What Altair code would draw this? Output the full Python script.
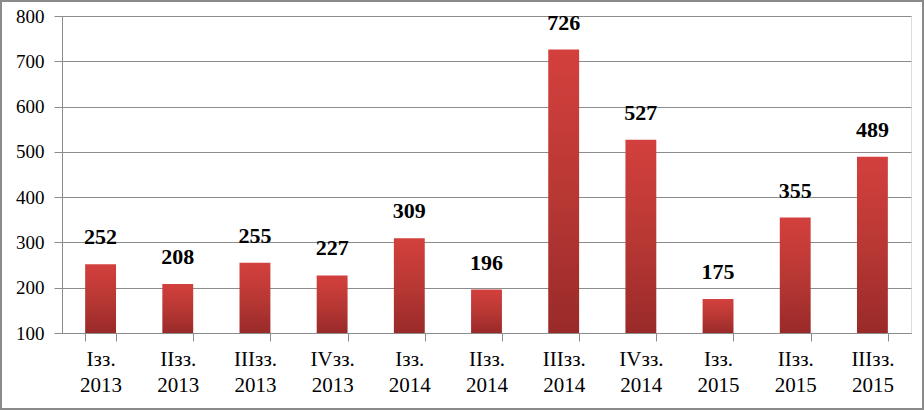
import altair as alt
import pandas as pd

quarters = ["Iзз.|2013", "IIзз.|2013", "IIIзз.|2013", "IVзз.|2013",
            "Iзз.|2014", "IIзз.|2014", "IIIзз.|2014", "IVзз.|2014",
            "Iзз.|2015", "IIзз.|2015", "IIIзз.|2015"]
values = [252, 208, 255, 227, 309, 196, 726, 527, 175, 355, 489]
y_ticks = [100, 200, 300, 400, 500, 600, 700, 800]
y_base = 100

df = pd.DataFrame({"q": quarters, "v": values})
FONT = "Palatino Linotype, Book Antiqua, Liberation Serif, serif"

x = alt.X("q:N", sort=quarters, title=None,
          scale=alt.Scale(paddingInner=0.6, paddingOuter=0.3),
          axis=alt.Axis(labelExpr="split(datum.label, '|')", labelAngle=0,
                        labelFont=FONT, labelFontSize=21, labelColor="#000",
                        labelLineHeight=26, labelPadding=7, labelBaseline="top",
                        tickBand="extent", tickSize=8, tickColor="#8c8c8c",
                        domainColor="#8c8c8c", grid=False))
y = alt.Y("v:Q", title=None,
          scale=alt.Scale(domain=[100, 800], zero=False, nice=False),
          axis=alt.Axis(values=y_ticks, labelFont=FONT, labelFontSize=19,
                        labelColor="#000", labelPadding=10, tickSize=8,
                        tickColor="#8c8c8c", domainColor="#8c8c8c",
                        gridColor="#8c8c8c", gridWidth=1))

grad = alt.Gradient(gradient="linear", x1=0, x2=0, y1=0, y2=1,
                    stops=[alt.GradientStop(color="#d3403d", offset=0),
                           alt.GradientStop(color="#b93834", offset=0.5),
                           alt.GradientStop(color="#992a29", offset=1)])

bars = alt.Chart(df).mark_bar(color=grad).encode(x=x, y=y, y2=alt.datum(y_base))
labels = alt.Chart(df).mark_text(baseline="bottom", dy=-15, font=FONT,
                                 fontSize=22, fontWeight="bold",
                                 color="#000").encode(x=x, y=y, text="v:Q")
frame = alt.Chart(df).mark_rect(fill=None, stroke="#8a8a8a", strokeWidth=2,
                                clip=False).encode(
    x=alt.value(-61), x2=alt.value(849 + 13 - 1),
    y=alt.value(-15), y2=alt.value(317 + 77 - 1))

chart = alt.layer(bars, labels, frame).properties(
    width=849, height=317,
    autosize=alt.AutoSizeParams(type="none"),
    padding={"left": 62, "top": 16, "right": 13, "bottom": 77},
).configure_view(stroke=None).configure(background="white")

chart.save("out.html", embed_options={"renderer": "svg", "actions": False})
